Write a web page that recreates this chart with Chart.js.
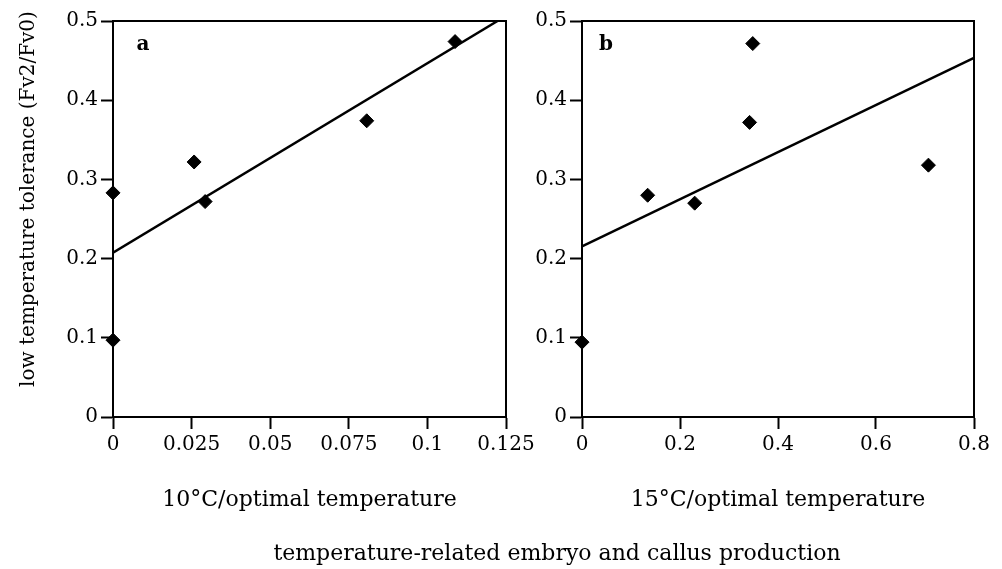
<!DOCTYPE html>
<html><head><meta charset="utf-8">
<script src="https://cdn.jsdelivr.net/npm/chart.js@4.4.1/dist/chart.umd.min.js"></script>
<style>
html,body{margin:0;padding:0;background:#fff;}
#wrap{position:relative;width:1002px;height:569px;overflow:hidden;background:#fff;}
canvas{position:absolute;top:0;}
#ca{left:0;}
#cb{left:520px;}
#main{position:absolute;left:257px;width:600px;top:540px;text-align:center;font:22px/26px "DejaVu Serif",serif;color:#000;white-space:nowrap;}
#ytitle{position:absolute;left:-173px;top:187px;width:400px;height:24px;text-align:center;font:20px/24px "DejaVu Serif",serif;color:#000;white-space:nowrap;transform:rotate(-90deg);transform-origin:50% 50%;}
</style>
</head><body>
<div id="wrap">
<canvas id="ca" width="540" height="569"></canvas>
<canvas id="cb" width="482" height="569"></canvas>
<div id="ytitle"></div>
<div id="main"></div>
</div>
<script>
// ---- data ----
const xA = [0, 0, 0.0258, 0.0293, 0.0807, 0.1088];
const yA = [0.283, 0.097, 0.322, 0.272, 0.374, 0.474];
const fitAx = [0, 0.1223];
const fitAy = [0.2075, 0.5];

const xB = [0, 0.134, 0.230, 0.342, 0.3485, 0.707];
const yB = [0.0945, 0.280, 0.270, 0.372, 0.4715, 0.318];
const fitBx = [0, 0.8];
const fitBy = [0.2154, 0.4534];

const yTickVals = [0, 0.1, 0.2, 0.3, 0.4, 0.5];
const yTickLabels = ['0', '0.1', '0.2', '0.3', '0.4', '0.5'];
const xTickValsA = [0, 0.025, 0.05, 0.075, 0.1, 0.125];
const xTickLabelsA = ['0', '0.025', '0.05', '0.075', '0.1', '0.125'];
const xTickValsB = [0, 0.2, 0.4, 0.6, 0.8];
const xTickLabelsB = ['0', '0.2', '0.4', '0.6', '0.8'];

const yTitle = 'low temperature tolerance (Fv2/Fv0)';
const xTitleA = '10\u00B0C/optimal temperature';
const xTitleB = '15\u00B0C/optimal temperature';
const mainTitle = 'temperature-related embryo and callus production';
const panelA = 'a', panelB = 'b';

// ---- rendering ----
document.getElementById('ytitle').textContent = yTitle;
document.getElementById('main').textContent = mainTitle;

const FONT = '"DejaVu Serif", serif';
Chart.defaults.font.family = FONT;
Chart.defaults.color = '#000';

const pts = (xs, ys) => xs.map((x, i) => ({x, y: ys[i]}));

const framePlugin = {
  id: 'frame',
  afterDraw(chart, args, opts) {
    const {ctx, chartArea: a} = chart;
    ctx.save();
    ctx.strokeStyle = '#000';
    ctx.lineWidth = 2;
    ctx.strokeRect(a.left, a.top, a.right - a.left, a.bottom - a.top);
    ctx.fillStyle = '#000';
    ctx.font = 'bold 20px ' + FONT;
    ctx.textAlign = 'center';
    ctx.textBaseline = 'middle';
    ctx.fillText(opts.label, a.left + opts.dx, a.top + 24);
    ctx.restore();
  }
};

function make(id, xs, ys, fx, fy, xmax, xVals, xLabels, xTitle, yAxisW, padRight, label, dx) {
  return new Chart(document.getElementById(id), {
    type: 'scatter',
    data: {
      datasets: [
        {data: pts(xs, ys), pointStyle: 'rectRot', pointRadius: 7, pointHoverRadius: 7,
         backgroundColor: '#000', borderColor: '#000', borderWidth: 1, showLine: false, clip: false},
        {data: pts(fx, fy), showLine: true, pointRadius: 0, borderColor: '#000', borderWidth: 2.5, fill: false}
      ]
    },
    options: {
      responsive: false, animation: false, devicePixelRatio: 1,
      layout: {padding: {left: 0, right: padRight, top: 21, bottom: 0}},
      plugins: {legend: {display: false}, tooltip: {enabled: false}, frame: {label, dx}},
      scales: {
        x: {
          type: 'linear', min: 0, max: xmax,
          afterBuildTicks: s => { s.ticks = xVals.map(v => ({value: v})); },
          afterFit: s => { s.height = 152; },
          ticks: {callback: (v, i) => xLabels[i], font: {size: 20}, padding: 4, maxRotation: 0, autoSkip: false, color: '#000'},
          grid: {drawOnChartArea: false, drawTicks: true, tickLength: 12, tickColor: '#000', tickWidth: 2},
          border: {color: '#000', width: 2},
          title: {display: true, text: xTitle, font: {size: 22}, color: '#000', padding: {top: 0, bottom: 56}}
        },
        y: {
          type: 'linear', min: 0, max: 0.5,
          afterBuildTicks: s => { s.ticks = yTickVals.map(v => ({value: v})); },
          afterFit: s => { s.width = yAxisW; },
          ticks: {callback: (v, i) => yTickLabels[i], font: {size: 20}, padding: 3, color: '#000'},
          grid: {drawOnChartArea: false, drawTicks: true, tickLength: 12, tickColor: '#000', tickWidth: 2},
          border: {color: '#000', width: 2}
        }
      }
    },
    plugins: [framePlugin]
  });
}

make('ca', xA, yA, fitAx, fitAy, 0.125, xTickValsA, xTickLabelsA, xTitleA, 113, 34, panelA, 30);
make('cb', xB, yB, fitBx, fitBy, 0.8, xTickValsB, xTickLabelsB, xTitleB, 62, 28, panelB, 24);
</script>
</body></html>
